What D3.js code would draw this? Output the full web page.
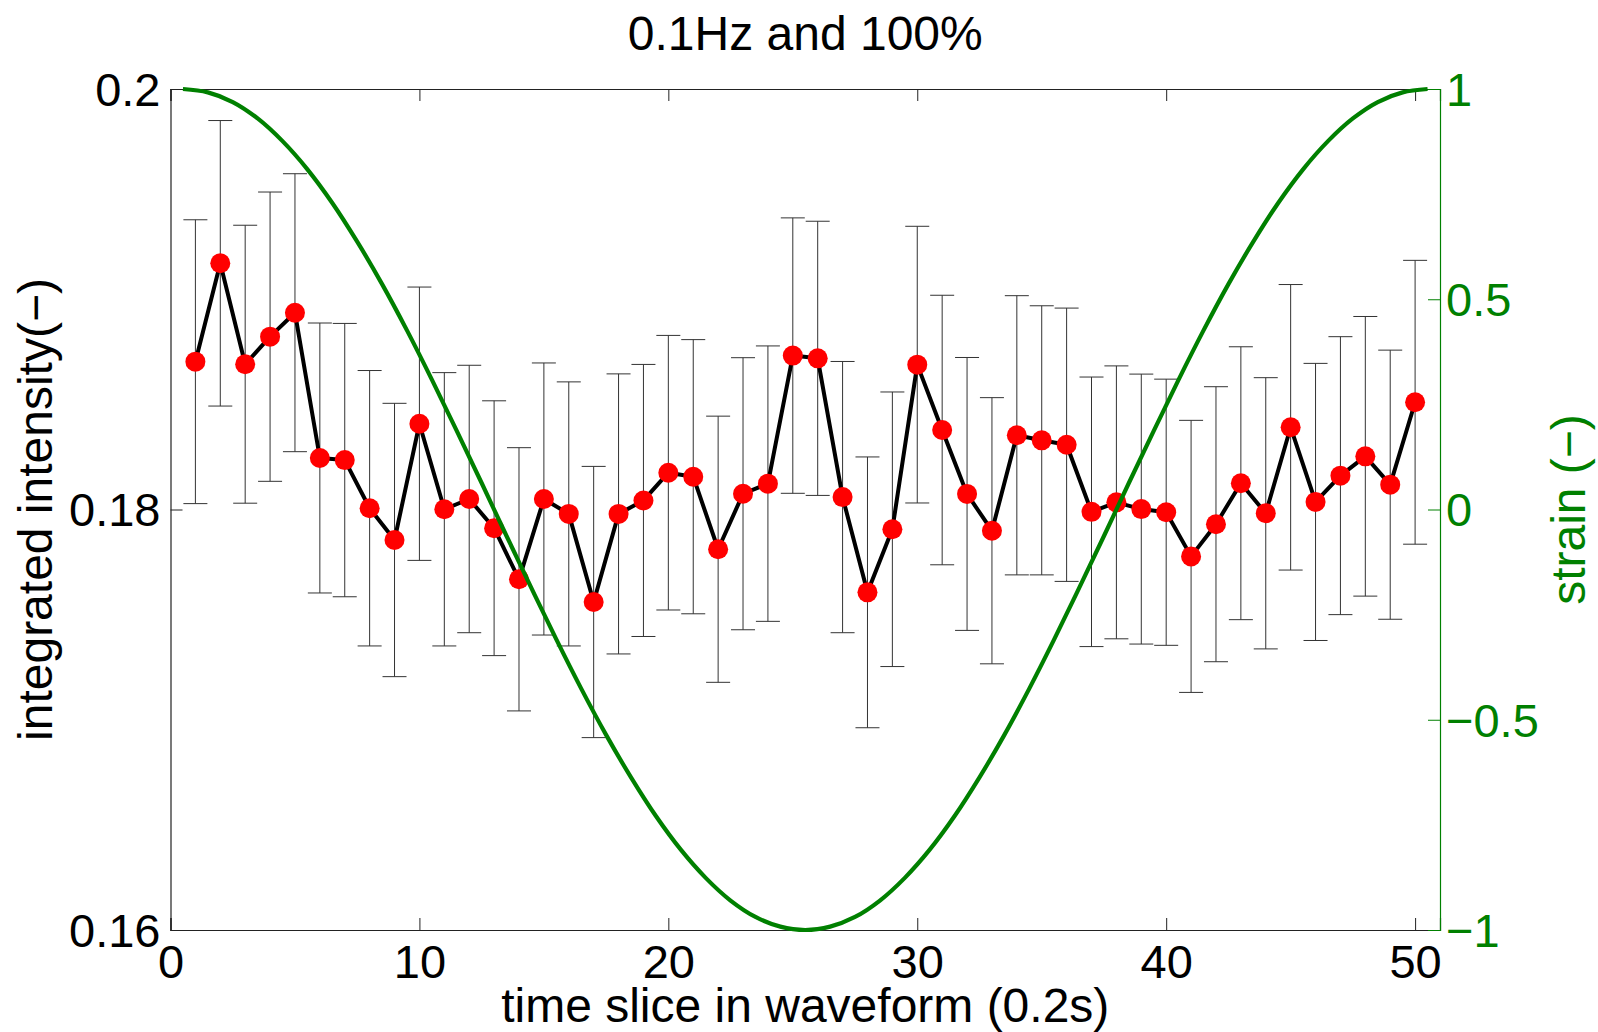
<!DOCTYPE html>
<html>
<head>
<meta charset="utf-8">
<script src="https://cdn.jsdelivr.net/npm/d3@7"></script>
<style>
  body { margin: 0; background: #fff; }
  text { font-family: "Liberation Sans", Arial, sans-serif; }
</style>
</head>
<body>
<div id="chart"></div>
<script>
// data
var slices = d3.range(1, 51);
var intensity = [0.18703, 0.19171, 0.18691, 0.18822, 0.18936, 0.18245, 0.18235, 0.18006, 0.17855, 0.18408,
                 0.18001, 0.18050, 0.17911, 0.17668, 0.18050, 0.17979, 0.17560, 0.17979, 0.18043, 0.18175,
                 0.18156, 0.17811, 0.18075, 0.18123, 0.18732, 0.18719, 0.18059, 0.17606, 0.17906, 0.18689,
                 0.18378, 0.18074, 0.17899, 0.18353, 0.18329, 0.18308, 0.17989, 0.18034, 0.18002, 0.17987,
                 0.17777, 0.17930, 0.18125, 0.17982, 0.18391, 0.18036, 0.18161, 0.18253, 0.18118, 0.18510];
var errors = [0.00675, 0.00679, 0.00661, 0.00688, 0.00661, 0.00642, 0.00650, 0.00655, 0.00650, 0.00650,
              0.00650, 0.00636, 0.00606, 0.00626, 0.00647, 0.00628, 0.00645, 0.00666, 0.00647, 0.00653,
              0.00652, 0.00633, 0.00647, 0.00655, 0.00655, 0.00652, 0.00645, 0.00644, 0.00653, 0.00658,
              0.00641, 0.00649, 0.00633, 0.00664, 0.00640, 0.00650, 0.00641, 0.00649, 0.00642, 0.00633,
              0.00647, 0.00654, 0.00649, 0.00645, 0.00679, 0.00659, 0.00661, 0.00665, 0.00640, 0.00675];

// strain waveform (right axis), sampled every slice from 0.5 to 50.5
var strainX = d3.range(0.5, 51, 1);
var strainVal = [1.000, 0.992, 0.969, 0.930, 0.876, 0.809, 0.729, 0.637, 0.536, 0.426,
                 0.309, 0.187, 0.063, -0.063, -0.187, -0.309, -0.426, -0.536, -0.637, -0.729,
                 -0.809, -0.876, -0.930, -0.969, -0.992, -1.000, -0.992, -0.969, -0.930, -0.876,
                 -0.809, -0.729, -0.637, -0.536, -0.426, -0.309, -0.187, -0.063, 0.063, 0.187,
                 0.309, 0.426, 0.536, 0.637, 0.729, 0.809, 0.876, 0.930, 0.969, 0.992, 1.000];

var xTicks = [0, 10, 20, 30, 40, 50];
var yTicks = [0.16, 0.18, 0.2];
var y2Ticks = [-1, -0.5, 0, 0.5, 1];

var W = 1598, H = 1032;
var margin = { top: 89, right: 158, bottom: 102, left: 170.5 };
var w = W - margin.left - margin.right;
var h = H - margin.top - margin.bottom;
var green = "#008000";
var fs = 47;      // tick labels
var fsLab = 48;   // title and axis labels

var svg = d3.select("#chart").append("svg")
    .attr("width", W)
    .attr("height", H)
    .append("g")
    .attr("transform", "translate(" + margin.left + "," + margin.top + ")");

var x = d3.scaleLinear().domain([0, 51]).range([0, w]);
var y = d3.scaleLinear().domain([0.16, 0.2]).range([h, 0]);
var y2 = d3.scaleLinear().domain([-1, 1]).range([h, 0]);

var fmtMinus = function (v) { return d3.format("")(v).replace("-", "\u2212"); };

// axes (ticks inside, like matlab)
var bottomAxis = d3.axisBottom(x).tickValues(xTicks).tickSize(-12).tickPadding(15).tickFormat(d3.format("d"));
var topAxis = d3.axisTop(x).tickValues(xTicks).tickSize(-12).tickFormat("");
var leftAxis = d3.axisLeft(y).tickValues(yTicks).tickSize(-12).tickPadding(10).tickFormat(function (d) { return d3.format("")(+d.toFixed(2)); });
var rightAxis = d3.axisRight(y2).tickValues(y2Ticks).tickSize(-12).tickPadding(6).tickFormat(fmtMinus);

var gb = svg.append("g").attr("transform", "translate(0," + h + ")").call(bottomAxis);
var gt = svg.append("g").call(topAxis);
var gl = svg.append("g").call(leftAxis);
var gr = svg.append("g").attr("transform", "translate(" + w + ",0)").call(rightAxis);

[gb, gt, gl].forEach(function (g) {
  g.select(".domain").attr("stroke", "#222").attr("stroke-width", 1.2);
  g.selectAll(".tick line").attr("stroke", "#222").attr("stroke-width", 1);
  g.selectAll("text").attr("font-size", fs).attr("fill", "#000").attr("font-family", "Liberation Sans, Arial, sans-serif");
});
gl.selectAll("text").attr("dy", "0.35em");
gr.select(".domain").attr("stroke", green).attr("stroke-width", 1.2);
gr.selectAll(".tick line").attr("stroke", green).attr("stroke-width", 1);
gr.selectAll("text").attr("font-size", fs).attr("fill", green).attr("dy", "0.35em")
  .attr("font-family", "Liberation Sans, Arial, sans-serif");

// error bars
var capW = 12;
var eb = svg.append("g").attr("class", "errorbars")
    .attr("stroke", "#333").attr("stroke-width", 1);
slices.forEach(function (s, i) {
  var lo = y(intensity[i] - errors[i]), hi = y(intensity[i] + errors[i]), cx = x(s);
  eb.append("line").attr("x1", cx).attr("x2", cx).attr("y1", lo).attr("y2", hi);
  eb.append("line").attr("x1", cx - capW).attr("x2", cx + capW).attr("y1", lo).attr("y2", lo);
  eb.append("line").attr("x1", cx - capW).attr("x2", cx + capW).attr("y1", hi).attr("y2", hi);
});

// data line
var line = d3.line()
    .x(function (d, i) { return x(slices[i]); })
    .y(function (d) { return y(d); });
svg.append("path")
    .datum(intensity)
    .attr("d", line)
    .attr("fill", "none")
    .attr("stroke", "#000")
    .attr("stroke-width", 4)
    .attr("stroke-linejoin", "round");

// markers
svg.selectAll(".dot")
    .data(intensity)
    .enter()
    .append("circle")
    .attr("class", "dot")
    .attr("cx", function (d, i) { return x(slices[i]); })
    .attr("cy", function (d) { return y(d); })
    .attr("r", 10)
    .attr("fill", "#ff0000");

// strain curve
var strainLine = d3.line()
    .x(function (d, i) { return x(strainX[i]); })
    .y(function (d) { return y2(d); })
    .curve(d3.curveCatmullRom);
svg.append("path")
    .datum(strainVal)
    .attr("d", strainLine)
    .attr("fill", "none")
    .attr("stroke", green)
    .attr("stroke-width", 4.2);

// title and labels
svg.append("text")
    .attr("x", w / 2)
    .attr("y", 50 - margin.top)
    .attr("text-anchor", "middle")
    .attr("font-size", fsLab)
    .text("0.1Hz and 100%");

svg.append("text")
    .attr("x", w / 2)
    .attr("y", 1022 - margin.top)
    .attr("text-anchor", "middle")
    .attr("font-size", fsLab)
    .text("time slice in waveform (0.2s)");

svg.append("text")
    .attr("transform", "translate(" + (52 - margin.left) + "," + (h / 2) + ") rotate(-90)")
    .attr("text-anchor", "middle")
    .attr("font-size", fsLab)
    .text("integrated intensity(\u2212)");

svg.append("text")
    .attr("transform", "translate(" + (1585 - margin.left) + "," + (h / 2) + ") rotate(-90)")
    .attr("text-anchor", "middle")
    .attr("font-size", fsLab)
    .attr("fill", green)
    .text("strain (\u2212)");
</script>
</body>
</html>
